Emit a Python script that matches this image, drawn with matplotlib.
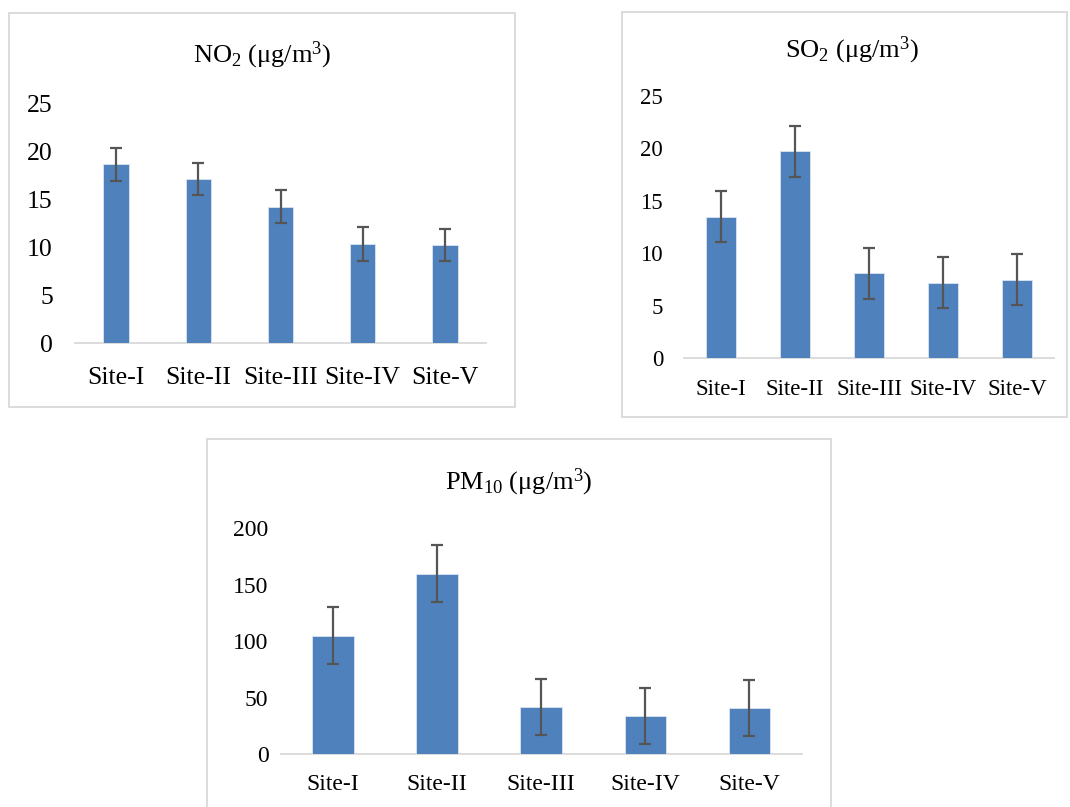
import matplotlib
matplotlib.use("Agg")
import matplotlib.pyplot as plt
from matplotlib.patches import Rectangle

# datos
sitios = ["Site-I", "Site-II", "Site-III", "Site-IV", "Site-V"]

no2 = [18.6, 17.1, 14.2, 10.3, 10.2]
no2_err = [1.7, 1.7, 1.7, 1.75, 1.7]

so2 = [13.5, 19.7, 8.1, 7.2, 7.5]
so2_err = [2.4, 2.45, 2.45, 2.45, 2.45]

pm10 = [105, 160, 42, 34, 41]
pm10_err = [25, 25, 25, 25, 25]

W, H = 1070, 807
AZUL = "#4f81bd"
GRIS = "#d9d9d9"

plt.rcParams["font.family"] = ["Liberation Serif", "DejaVu Serif"]
plt.rcParams["mathtext.fontset"] = "custom"
plt.rcParams["mathtext.rm"] = "Liberation Serif"
plt.rcParams["mathtext.it"] = "Liberation Serif:italic"

fig = plt.figure(figsize=(W / 100, H / 100), dpi=100, facecolor="white")


def px_rect(x0, y0, x1, y1):
    return [x0 / W, 1 - y1 / H, (x1 - x0) / W, (y1 - y0) / H]


def marco(x0, y0, x1, y1):
    fig.patches.append(Rectangle((x0 / W, 1 - y1 / H), (x1 - x0) / W, (y1 - y0) / H,
                                 transform=fig.transFigure, fill=False,
                                 edgecolor=GRIS, linewidth=1.3))


def panel(caja, valores, errores, ymax, paso, ancho, titulo, titulo_xy, fs_tick, fs_titulo, pad_y, pad_x):
    ax = fig.add_axes(px_rect(*caja))
    x = range(len(sitios))
    ax.bar(x, valores, width=ancho, color=AZUL, edgecolor="#dbe5f1", linewidth=0.6, zorder=2)
    ax.errorbar(x, valores, yerr=errores, fmt="none", ecolor="#555555",
                elinewidth=1.6, capsize=4.2, capthick=1.6, zorder=3)
    ax.set_xlim(-0.5, len(sitios) - 0.5)
    ax.set_ylim(0, ymax)
    ax.set_yticks(range(0, ymax + 1, paso))
    ax.set_xticks(list(x))
    ax.set_xticklabels(sitios)
    ax.tick_params(axis="both", length=0, labelsize=fs_tick)
    ax.tick_params(axis="y", pad=pad_y)
    ax.tick_params(axis="x", pad=pad_x)
    for s in ["top", "right", "left"]:
        ax.spines[s].set_visible(False)
    ax.spines["bottom"].set_color(GRIS)
    ax.spines["bottom"].set_linewidth(1.3)
    ax.spines["bottom"].set_zorder(1)
    ax.set_facecolor("none")
    fig.text(titulo_xy[0] / W, 1 - titulo_xy[1] / H, titulo,
             ha="center", va="center", fontsize=fs_titulo)
    return ax


# NO2
marco(9, 13, 515, 407)
panel((75, 103, 486, 343), no2, no2_err, 25, 5, 0.31,
      r"NO$_\mathrm{2}$ (μg/m$^\mathrm{3}$)", (262, 55), 18.5, 19, 16, 17)

# SO2
marco(622, 12, 1067, 417)
panel((684, 95.8, 1054, 358.3), so2, so2_err, 25, 5, 0.4,
      r"SO$_\mathrm{2}$ (μg/m$^\mathrm{3}$)", (852, 50), 16.5, 19, 15, 15)

# PM10
marco(207, 439, 831, 820)
panel((281, 528.3, 801.5, 754.3), pm10, pm10_err, 200, 50, 0.4,
      r"PM$_\mathrm{10}$ (μg/m$^\mathrm{3}$)", (519, 482), 17, 19, 9, 14)

fig.savefig("out.png", dpi=100, facecolor="white")
